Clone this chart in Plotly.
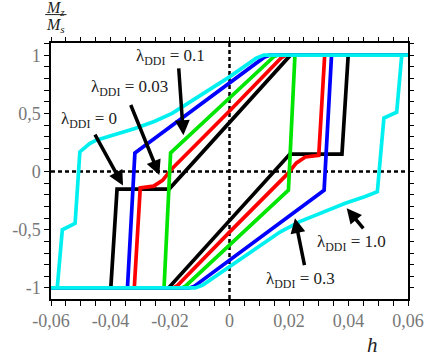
import plotly.graph_objects as go

# ---- hysteresis loops M_z/M_s vs h ----
# each loop: descending branch (from +sat) followed by ascending branch

h_l0 = [0.06, 0.0205, -0.0203, -0.0378, -0.0399, -0.06,
        -0.06, -0.0205, 0.0203, 0.0378, 0.0399, 0.06]
m_l0 = [1, 1, -0.15, -0.15, -1, -1,
        -1, -1, 0.15, 0.15, 1, 1]

h_l003 = [0.06, 0.0190, 0.0175, 0.0, -0.0195, -0.0225, -0.0255, -0.0300, -0.0320, -0.06,
          -0.06, -0.0190, -0.0175, 0.0, 0.0195, 0.0225, 0.0255, 0.0300, 0.0320, 0.06]
m_l003 = [1, 1, 0.98, 0.52, 0.02, -0.075, -0.125, -0.14, -1, -1,
          -1, -1, -0.98, -0.52, -0.02, 0.075, 0.125, 0.14, 1, 1]

h_l01 = [0.06, 0.0160, 0.0148, -0.0198, -0.0220, -0.06,
         -0.06, -0.0160, -0.0148, 0.0198, 0.0220, 0.06]
m_l01 = [1, 1, 0.985, 0.16, -1, -1,
         -1, -1, -0.985, -0.16, 1, 1]

h_l03 = [0.06, 0.0135, 0.0118, -0.0318, -0.0343, -0.06,
         -0.06, -0.0135, -0.0118, 0.0318, 0.0343, 0.06]
m_l03 = [1, 1, 0.985, 0.16, -1, -1,
         -1, -1, -0.985, -0.16, 1, 1]

h_l1 = [0.06, 0.0115, 0.0090, 0.0, -0.0193, -0.0253, -0.0318, -0.0385, -0.0448, -0.0470,
        -0.0503, -0.0519, -0.0562, -0.0579, -0.06,
        -0.06, -0.0115, -0.0090, 0.0, 0.0171, 0.0236, 0.0302, 0.0389, 0.0454, 0.0497,
        0.0519, 0.0562, 0.0579, 0.06]
m_l1 = [1, 1, 0.975, 0.814, 0.50, 0.43, 0.37, 0.315, 0.27, 0.24,
        0.17, -0.445, -0.50, -1, -1,
        -1, -1, -0.975, -0.814, -0.517, -0.43, -0.36, -0.273, -0.216, -0.173,
        0.46, 0.51, 1, 1]

curves = [
    (h_l0, m_l0, "black"),
    (h_l003, m_l003, "#ff0000"),
    (h_l01, m_l01, "#00e600"),
    (h_l03, m_l03, "#0000ff"),
    (h_l1, m_l1, "#00f0f0"),
]

# labels: text, text position, arrow tail, arrow tip (data coords)
labels = ["λ<sub>DDI</sub> = 0", "λ<sub>DDI</sub> = 0.03", "λ<sub>DDI</sub> = 0.1",
          "λ<sub>DDI</sub> = 0.3", "λ<sub>DDI</sub> = 1.0"]
label_h = [-0.0473, -0.0337, -0.0200, 0.0240, 0.0411]
label_m = [0.44, 0.717, 0.983, -0.93, -0.614]
tail_h = [-0.0455, -0.0334, -0.0171, 0.0253, 0.0454]
tail_m = [0.33, 0.585, 0.90, -0.817, -0.50]
tip_h = [-0.0358, -0.0236, -0.0155, 0.0220, 0.0394]
tip_m = [-0.12, -0.03, 0.313, -0.40, -0.316]

x_range = [-0.06, 0.06]
y_range = [-1.095, 1.105]
x_tickvals = [-0.06, -0.04, -0.02, 0, 0.02, 0.04, 0.06]
x_ticktext = ["-0,06", "-0,04", "-0,02", "0", "0,02", "0,04", "0,06"]
y_tickvals = [-1, -0.5, 0, 0.5, 1]
y_ticktext = ["-1", "-0,5", "0", "0,5", "1"]

SERIF = "Liberation Serif"

fig = go.Figure()

for hh, mm, col in curves:
    fig.add_trace(go.Scatter(x=hh, y=mm, mode="lines",
                             line=dict(color=col, width=3.7),
                             showlegend=False, hoverinfo="skip"))

# invisible trace so the top/right tick axes get drawn
fig.add_trace(go.Scatter(x=x_range, y=y_range, xaxis="x2", yaxis="y2", mode="lines",
                         line=dict(width=0), opacity=0, showlegend=False, hoverinfo="skip"))

# dotted zero lines
fig.add_shape(type="line", xref="x", yref="paper", x0=0, x1=0, y0=0, y1=1,
              line=dict(color="black", width=2.5, dash="4px,3px"), layer="below")
fig.add_shape(type="line", xref="paper", yref="y", x0=0, x1=1, y0=0, y1=0,
              line=dict(color="black", width=2.5, dash="4px,3px"), layer="below")

for i in range(len(labels)):
    fig.add_annotation(x=label_h[i], y=label_m[i], text=labels[i], showarrow=False,
                       font=dict(family=SERIF, size=17, color="#222"))
    fig.add_annotation(x=tip_h[i], y=tip_m[i], ax=tail_h[i], ay=tail_m[i],
                       axref="x", ayref="y", text="", showarrow=True,
                       arrowhead=2, arrowsize=0.85, arrowwidth=3.5, arrowcolor="black")

# y title as a fraction above the plot
fig.add_annotation(xref="paper", yref="paper", x=0.0122, y=1.133,
                   xanchor="center", yanchor="middle",
                   text="<i>M</i><sub><i>z</i></sub>",
                   showarrow=False, font=dict(family=SERIF, size=16, color="#222"))
fig.add_annotation(xref="paper", yref="paper", x=0.0122, y=1.070,
                   xanchor="center", yanchor="middle",
                   text="<i>M</i><sub><i>s</i></sub>",
                   showarrow=False, font=dict(family=SERIF, size=16, color="#222"))
fig.add_shape(type="line", xref="paper", yref="paper", x0=-0.0163, x1=0.0435, y0=1.111, y1=1.111,
              line=dict(color="#222", width=1))
# x title
fig.add_annotation(xref="paper", yref="paper", x=0.9, y=-0.18,
                   xanchor="center", yanchor="middle", text="<i>h</i>",
                   showarrow=False, font=dict(family=SERIF, size=21, color="#222"))

tick_style = dict(ticks="outside", ticklen=5, tickwidth=1.2, tickcolor="black")
axis_common = dict(showgrid=False, zeroline=False, showline=True, linecolor="black",
                   linewidth=1.5, mirror=True, **tick_style,
                   tickfont=dict(family=SERIF, size=18, color="#777"))

fig.update_layout(
    width=436, height=355, autosize=False,
    margin=dict(l=43, r=25, t=43, b=56),
    paper_bgcolor="white", plot_bgcolor="white", showlegend=False,
    xaxis=dict(range=x_range, tickvals=x_tickvals, ticktext=x_ticktext,
               minor=dict(dtick=0.005, tick0=0, **tick_style), **axis_common),
    yaxis=dict(range=y_range, tickvals=y_tickvals, ticktext=y_ticktext,
               minor=dict(dtick=0.1, tick0=0, **tick_style), **axis_common),
    xaxis2=dict(range=x_range, overlaying="x", side="top", tickvals=x_tickvals,
                showticklabels=False, showgrid=False, zeroline=False, showline=False,
                minor=dict(dtick=0.005, tick0=0, **tick_style), **tick_style),
    yaxis2=dict(range=y_range, overlaying="y", side="right", tickvals=y_tickvals,
                showticklabels=False, showgrid=False, zeroline=False, showline=False,
                minor=dict(dtick=0.1, tick0=0, **tick_style), **tick_style),
)

fig.write_html("out.html", config={"displayModeBar": False},
               post_script="document.body.style.margin='0';")
